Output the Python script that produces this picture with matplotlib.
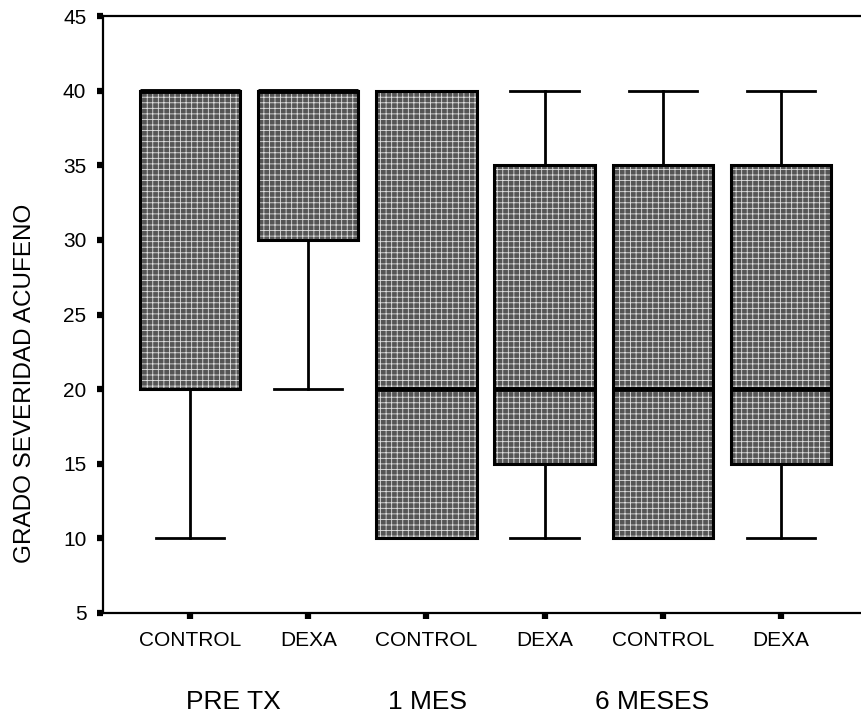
import matplotlib
matplotlib.use("Agg")
import matplotlib.pyplot as plt
import matplotlib.transforms as mtransforms
from matplotlib.patches import PathPatch

plt.rcParams['font.family'] = ['Liberation Sans', 'DejaVu Sans']
plt.rcParams['hatch.linewidth'] = 0.6

# ---- data ----
categories = ["CONTROL", "DEXA", "CONTROL", "DEXA", "CONTROL", "DEXA"]
groups = ["PRE TX", "1 MES", "6 MESES"]
whislo = [10, 20, 10, 10, 10, 10]
q1 = [20, 30, 10, 15, 10, 15]
med = [40, 40, 20, 20, 20, 20]
q3 = [40, 40, 40, 35, 35, 35]
whishi = [40, 40, 40, 40, 40, 40]
yticks = [5, 10, 15, 20, 25, 30, 35, 40, 45]
ylabel = "GRADO SEVERIDAD ACUFENO"

stats = []
for lab, lo, a, m, b, hi in zip(categories, whislo, q1, med, q3, whishi):
    stats.append(dict(label=lab, whislo=lo, q1=a, med=m, q3=b, whishi=hi, fliers=[]))

fig = plt.figure(figsize=(8.61, 7.2), dpi=100)
ax = fig.add_axes([103/861, 1-613/720, 1-103/861, (613-16)/720])

positions = list(range(1, len(stats)+1))
res = ax.bxp(stats, positions=positions, widths=0.85, capwidths=0.58,
             patch_artist=True, showfliers=False,
             boxprops=dict(facecolor='#555555', edgecolor='white', linewidth=0),
             whiskerprops=dict(color='black', linewidth=2),
             capprops=dict(color='black', linewidth=2),
             medianprops=dict(color='black', linewidth=3.5, zorder=4))
for box in res['boxes']:
    box.set_hatch('+++')
    box.set_edgecolor('#e0e0e0')
    box.set_linewidth(0)
    ax.add_patch(PathPatch(box.get_path(), fill=False, edgecolor='black',
                           linewidth=2.2, zorder=3))

ax.set_xlim(1 - 87/118.2, 6 + 80/118.2)
ax.set_ylim(5, 45)
ax.set_yticks(yticks)
ax.set_yticklabels([str(t) for t in yticks], fontsize=15)
ax.set_xticks(positions)
ax.set_xticklabels(categories, fontsize=15)
ax.tick_params(axis='both', direction='out', length=4, width=4.5, color='black')
ax.tick_params(axis='y', pad=8)
ax.tick_params(axis='x', pad=9)
ax.spines['right'].set_visible(False)
for s in ['left', 'top', 'bottom']:
    ax.spines[s].set_linewidth(1.6)

fig.text(25/861, 1-383/720, ylabel, rotation=90, fontsize=17.5,
         ha='center', va='center')

trans = mtransforms.blended_transform_factory(ax.transData, fig.transFigure)
group_x = [1.364, 3.01, 4.91]
for gx, g in zip(group_x, groups):
    ax.text(gx, 1-702/720, g, transform=trans, ha='center', va='center',
            fontsize=19)

fig.savefig("out.png", dpi=100)
